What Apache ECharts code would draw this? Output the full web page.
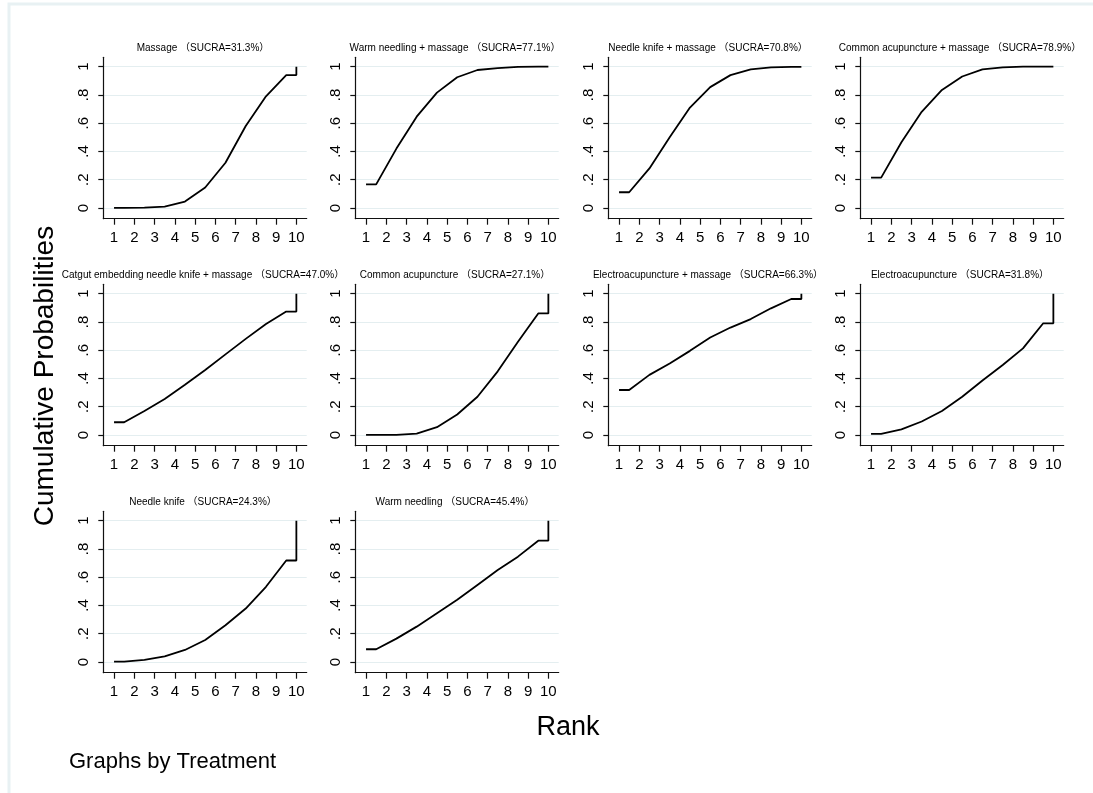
<!DOCTYPE html>
<html>
<head>
<meta charset="utf-8">
<script src="https://cdn.jsdelivr.net/npm/echarts@6/dist/echarts.min.js"></script>
<style>
html,body{margin:0;padding:0;background:#fff;}
#c{width:1093px;height:793px;}
</style>
</head>
<body>
<div id="c"></div>
<script>
// ---- data ----
const ranks = [1, 2, 3, 4, 5, 6, 7, 8, 9, 10];
const treatments = [
  'Massage',
  'Warm needling + massage',
  'Needle knife + massage',
  'Common acupuncture + massage',
  'Catgut embedding needle knife + massage',
  'Common acupuncture',
  'Electroacupuncture + massage',
  'Electroacupuncture',
  'Needle knife',
  'Warm needling'
];
const sucra = ['31.3', '77.1', '70.8', '78.9', '47.0', '27.1', '66.3', '31.8', '24.3', '45.4'];

const cumMassage        = [0.000, 0.002, 0.010, 0.045, 0.145, 0.320, 0.580, 0.790, 0.940, 1];
const cumWarmMassage    = [0.167, 0.420, 0.646, 0.816, 0.925, 0.976, 0.990, 0.998, 1.000, 1];
const cumKnifeMassage   = [0.111, 0.280, 0.500, 0.710, 0.855, 0.940, 0.980, 0.995, 0.998, 1];
const cumCommonMassage  = [0.215, 0.465, 0.680, 0.835, 0.930, 0.980, 0.995, 1.000, 1.000, 1];
const cumCatgutMassage  = [0.090, 0.170, 0.255, 0.355, 0.460, 0.570, 0.680, 0.785, 0.873, 1];
const cumCommon         = [0.000, 0.001, 0.010, 0.055, 0.145, 0.270, 0.450, 0.660, 0.860, 1];
const cumElectroMassage = [0.318, 0.425, 0.505, 0.595, 0.690, 0.760, 0.820, 0.896, 0.962, 1];
const cumElectro        = [0.007, 0.040, 0.095, 0.170, 0.270, 0.385, 0.495, 0.613, 0.790, 1];
const cumKnife          = [0.003, 0.015, 0.040, 0.085, 0.155, 0.260, 0.378, 0.532, 0.718, 1];
const cumWarm           = [0.090, 0.165, 0.250, 0.345, 0.440, 0.545, 0.650, 0.745, 0.858, 1];

const cumulative = [cumMassage, cumWarmMassage, cumKnifeMassage, cumCommonMassage,
  cumCatgutMassage, cumCommon, cumElectroMassage, cumElectro, cumKnife, cumWarm];

const yTickValues = [0, 0.2, 0.4, 0.6, 0.8, 1];
const yTickLabels = ['0', '.2', '.4', '.6', '.8', '1'];
const xTickLabels = ['1', '2', '3', '4', '5', '6', '7', '8', '9', '10'];

// ---- layout ----
const colLeft = [103.3, 355.3, 608.3, 860.3];
const rowTop = [57.3, 284.3, 511.3];
const plotW = 203.4;
const plotH = 161.4;
const FONT = "'Liberation Sans', Arial, 'Noto Sans CJK SC', sans-serif";

// Stata-style connected cumulative ranking curve: segment midpoints at rank + 0.5
function curvePoints(cum) {
  const n = ranks.length;
  const pts = [[ranks[0], cum[0]]];
  for (let k = 0; k < n - 1; k++) pts.push([ranks[k] + 0.5, cum[k]]);
  pts.push([ranks[n - 1], cum[n - 2]]);
  pts.push([ranks[n - 1], cum[n - 1]]);
  return pts;
}

const grids = [], xAxes = [], yAxes = [], series = [], graphics = [];

treatments.forEach((name, i) => {
  const r = Math.floor(i / 4), c = i % 4;
  grids.push({ left: colLeft[c], top: rowTop[r], width: plotW, height: plotH, containLabel: false, outerBoundsMode: 'none' });
  xAxes.push({
    type: 'value', gridIndex: i, min: 0.47, max: 10.51,
    axisLine: { show: true, onZero: false, lineStyle: { color: '#111', width: 1.2 } },
    axisTick: { show: true, length: 6, inside: false, customValues: ranks, lineStyle: { color: '#111', width: 1.2 } },
    axisLabel: { show: true, margin: 12, customValues: ranks, fontSize: 15, color: '#000', fontFamily: FONT,
      formatter: v => xTickLabels[ranks.indexOf(Math.round(v))] },
    splitLine: { show: false }
  });
  yAxes.push({
    type: 'value', gridIndex: i, min: -0.076, max: 1.066,
    axisLine: { show: true, onZero: false, lineStyle: { color: '#111', width: 1.2 } },
    axisTick: { show: true, length: 5, customValues: yTickValues, lineStyle: { color: '#111', width: 1.2 } },
    axisLabel: { show: true, margin: 12, rotate: 90, customValues: yTickValues, fontSize: 15, color: '#000', fontFamily: FONT,
      formatter: v => yTickLabels[yTickValues.indexOf(Math.round(v * 10) / 10)] },
    splitLine: { show: true, lineStyle: { color: '#e4eef0', width: 1 } }
  });
  series.push({
    type: 'line', xAxisIndex: i, yAxisIndex: i,
    data: curvePoints(cumulative[i]),
    showSymbol: false, symbol: 'none',
    lineStyle: { color: '#000', width: 1.8 },
    silent: true
  });
  graphics.push({
    type: 'text',
    x: colLeft[c] + plotW / 2 - 2,
    y: rowTop[r] - 9.5,
    style: {
      text: name + ' （SUCRA=' + sucra[i] + '%）',
      font: '10px ' + FONT, fill: '#000',
      textAlign: 'center', textVerticalAlign: 'middle'
    }
  });
});

graphics.push({
  type: 'rect', shape: { x: 9, y: 4, width: 1100, height: 800 },
  style: { fill: 'none', stroke: '#e8f1f3', lineWidth: 3 }, z: -1
});
graphics.push({
  type: 'text', x: 45, y: 376, rotation: Math.PI / 2,
  style: { text: 'Cumulative Probabilities', font: '28px ' + FONT, fill: '#000', textAlign: 'center', textVerticalAlign: 'middle' }
});
graphics.push({
  type: 'text', x: 568, y: 728,
  style: { text: 'Rank', font: '27px ' + FONT, fill: '#000', textAlign: 'center', textVerticalAlign: 'middle' }
});
graphics.push({
  type: 'text', x: 69, y: 762,
  style: { text: 'Graphs by Treatment', font: '22px ' + FONT, fill: '#000', textAlign: 'left', textVerticalAlign: 'middle' }
});

const chart = echarts.init(document.getElementById('c'), null, { renderer: 'canvas' });
chart.setOption({
  animation: false,
  backgroundColor: '#ffffff',
  grid: grids,
  xAxis: xAxes,
  yAxis: yAxes,
  series: series,
  graphic: graphics
});
</script>
</body>
</html>
